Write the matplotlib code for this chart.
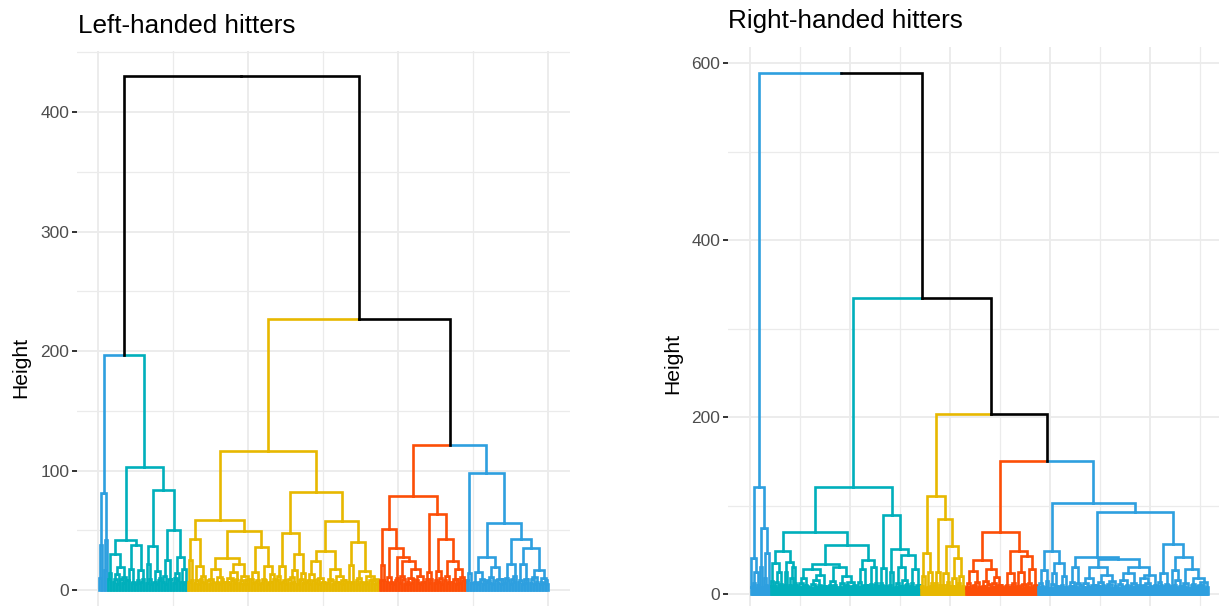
import matplotlib
matplotlib.use("Agg")
import matplotlib.pyplot as plt
from matplotlib.collections import LineCollection
from matplotlib.ticker import MultipleLocator, NullFormatter

plt.rcParams['font.family'] = ['Liberation Sans', 'DejaVu Sans']

# ---------------- data ----------------
cluster_colors = ["#2E9FDF", "#00AFBB", "#E7B800", "#FC4E07", "#2E9FDF"]
branch_color = "#000000"

left_title = "Left-handed hitters"
right_title = "Right-handed hitters"
y_label = "Height"

# Merge heights between neighbouring leaves (left to right), per cluster.
left_blue1 = [10, 38, 81, 17, 42]
left_cyan = [9, 14, 30,
             7, 9, 5, 13, 19, 9, 6, 11, 8, 42,
             8, 18, 6, 7, 5, 38,
             8, 6, 17, 7, 9, 103,
             6, 22, 9, 5, 37,
             7, 5, 16, 8, 10, 84,
             7, 12, 5, 25, 9, 9, 50,
             6, 10, 8, 14, 28, 7, 5, 18, 7]
left_yellow = [7, 25, 8, 43,
               6, 8, 5, 20, 9, 7, 12, 6, 59,
               8, 5, 9, 7, 18, 6, 7, 5, 11, 9, 7, 27,
               7, 7, 5, 10, 8, 6, 15, 9, 22, 6, 8, 5, 12, 8, 5, 9, 49,
               9, 6, 15, 7, 8, 5, 36,
               6, 9, 8, 20, 5, 7, 7, 13, 9, 116,
               8, 12, 6, 20, 7, 8, 5, 48,
               9, 6, 11, 7, 17, 5, 30, 8, 9, 6, 14, 82,
               7, 8, 5, 13, 8, 6, 24, 9, 5, 10, 7, 7, 6, 33,
               6, 9, 8, 5, 18, 7, 7, 6, 12, 8, 5, 8, 7, 58,
               7, 21, 6, 7, 40,
               8, 5, 10, 7, 16, 6, 7, 5, 12, 8, 6, 8, 5, 9, 7]
left_orange = [8, 21, 8, 51,
               7, 11, 6, 7, 5, 35,
               8, 10, 28,
               6, 12, 9, 5, 24,
               7, 5, 10, 6, 9, 18,
               8, 6, 12, 5, 7, 7, 79,
               9, 15, 6, 9, 64,
               6, 8, 16, 7, 10, 5, 43,
               8, 12, 6, 7, 24,
               7, 9, 5, 9, 18, 6, 11, 8, 7]
left_blue2 = [8, 14, 6, 98,
              6, 7, 5, 15, 7, 9, 5, 8, 28,
              7, 8, 6, 11, 5, 19, 8, 6, 9, 5, 9, 56,
              6, 10, 8, 22, 5, 9, 7, 12, 43,
              7, 8, 5, 22, 9, 6, 9, 35,
              6, 9, 5, 11, 7, 17, 5, 7, 6, 10, 8, 5]
left_joins = [197, 430, 227, 121]

right_blue1 = [8, 41,
               9, 12, 7, 25, 10, 10, 121,
               7, 30, 8, 75,
               8, 18, 10, 46, 7, 9]
right_cyan = [9, 15, 35,
              8, 9, 7, 14, 25, 10, 6, 11, 9, 49,
              10, 7, 25, 8, 36,
              7, 10, 9, 18, 30, 8, 12, 10, 70,
              8, 8, 6, 12, 9, 7, 18, 10, 6, 9, 8, 28, 7, 7, 6, 11, 9, 7, 16, 8,
              8, 6, 10, 22, 7, 9, 9, 6, 7, 34,
              9, 7, 10, 8, 6, 15, 10, 7, 8, 6, 30, 8, 7, 7, 12, 9, 6, 20, 10, 7,
              9, 8, 6, 14, 9, 8, 7, 10, 55,
              7, 8, 8, 14, 6, 28, 9, 10, 7, 10, 6, 9, 38,
              8, 11, 7, 30, 10, 6, 13, 9, 121,
              9, 7, 12, 10, 29, 8, 9, 6, 7, 89,
              8, 10, 25, 7, 7, 51,
              7, 8, 6, 13, 9, 30, 8, 9, 7, 16, 10, 6, 11, 8, 44,
              9, 6, 12, 8, 28, 7, 8, 10, 6, 10]
right_yellow = [8, 9, 20, 7, 7, 46,
                7, 8, 25, 9, 6, 12, 8, 111,
                9, 12, 7, 25, 10, 9, 85,
                8, 10, 6, 24, 10, 7, 14, 9, 54,
                7, 9, 9, 18, 8, 6, 41, 10, 12, 7, 20, 9, 6, 8]
right_orange = [7, 8, 8, 12, 6, 26, 9, 9, 7, 10, 6, 14, 8, 7, 38,
                8, 6, 9, 9, 15, 7, 7, 6, 11, 28, 8, 8, 7, 13, 9, 6, 19, 10, 7, 10,
                8, 6, 7, 70,
                9, 7, 10, 8, 24, 6, 8, 10, 7, 12, 8, 49,
                7, 9, 8, 25, 6, 10, 11, 7, 7, 8, 43,
                8, 12, 7, 7, 28, 9, 6, 9, 10]
right_blue2 = [8, 8, 7, 12, 9, 27, 6, 7, 8, 15, 7, 49,
               7, 7, 6, 11, 24, 9, 7, 9, 8, 35,
               9, 6, 10, 8, 20, 7, 8, 6, 103,
               7, 9, 9, 6, 14, 31, 8, 7, 7, 12, 6, 10, 42,
               8, 6, 8, 7, 12, 9, 6, 18, 8, 7, 7, 10, 6, 10, 30, 9, 7, 9, 6, 14,
               8, 10, 7, 22, 9, 6, 8, 8, 11, 7, 7, 6, 15, 9, 40,
               7, 7, 6, 11, 9, 7, 16, 8, 6, 9, 10, 7, 24, 9, 6, 8, 8, 13, 7, 10,
               30, 8, 6, 10, 9, 7, 18, 10, 6, 8, 8, 12, 7, 9, 21, 8, 6, 9, 10, 93,
               8, 9, 7, 14, 10, 24, 6, 8, 9, 11, 7, 10, 56,
               7, 8, 9, 27, 6, 10, 8, 16, 7, 7, 9, 42,
               9, 6, 9, 8, 13, 7, 7, 6, 28, 10, 7, 11, 8, 6, 18, 9, 8, 7, 6, 10,
               8, 10, 14, 7, 7, 8]
right_joins = [589, 335, 203, 150]


# ---------------- helpers ----------------
def assemble(clusters, joins):
    gaps, member = [], []
    for ci, g in enumerate(clusters):
        if ci > 0:
            gaps.append(joins[ci - 1])
        gaps.extend(g)
        member.extend([ci] * (len(g) + 1))
    return gaps, member


def dendro_segments(gaps, member):
    segs, cols = [], []

    def build(lo, hi):
        if lo == hi:
            return (lo + 1.0, 0.0, lo, hi)
        sub = gaps[lo:hi]
        k = lo + sub.index(max(sub))
        left = build(lo, k)
        right = build(k + 1, hi)
        x = (left[0] + right[0]) / 2.0
        h = gaps[k]
        for ch in (left, right):
            cx, chh, clo, chi = ch
            segs.append([(x, h), (cx, h), (cx, chh)])
            if member[clo] == member[chi]:
                cols.append(cluster_colors[member[clo]])
            else:
                cols.append(branch_color)
        return (x, h, lo, hi)

    build(0, len(gaps))
    return segs, cols


W, H = 1219, 606
fig = plt.figure(figsize=(W / 100, H / 100), dpi=100)
fig.patch.set_facecolor("white")


def panel(rect, gaps, member, xlim, ylim, xmaj, ymaj):
    ax = fig.add_axes(rect)
    ax.set_facecolor("white")
    segs, cols = dendro_segments(gaps, member)
    lc = LineCollection(segs, colors=cols, linewidths=1.9,
                        capstyle="projecting", joinstyle="miter", zorder=3)
    ax.add_collection(lc)
    ax.set_xlim(*xlim)
    ax.set_ylim(*ylim)
    ax.xaxis.set_major_locator(MultipleLocator(xmaj))
    ax.xaxis.set_minor_locator(MultipleLocator(xmaj / 2))
    ax.yaxis.set_major_locator(MultipleLocator(ymaj))
    ax.yaxis.set_minor_locator(MultipleLocator(ymaj / 2))
    ax.xaxis.set_major_formatter(NullFormatter())
    ax.grid(which="major", color="#EBEBEB", linewidth=1.3, zorder=0)
    ax.grid(which="minor", color="#EBEBEB", linewidth=0.9, zorder=0)
    ax.set_axisbelow(True)
    for s in ax.spines.values():
        s.set_visible(False)
    ax.tick_params(axis="y", which="major", length=3.5, width=1.3,
                   color="#222222", labelcolor="#4D4D4D", labelsize=12.5, pad=2)
    ax.tick_params(axis="y", which="minor", length=0)
    ax.tick_params(axis="x", which="both", length=0)
    return ax


lg, lm = assemble([left_blue1, left_cyan, left_yellow, left_orange, left_blue2], left_joins)
rg, rm = assemble([right_blue1, right_cyan, right_yellow, right_orange, right_blue2], right_joins)

nl = len(lm)
nr = len(rm)
lxl = (1 - 0.05 * (nl - 1), nl + 0.05 * (nl - 1))
rxl = (1 - 0.05 * (nr - 1), nr + 0.05 * (nr - 1))
ltop = max(left_joins)
rtop = max(right_joins)

panel([77 / W, (H - 615.7) / H, 493.35 / W, (615.7 - 50.5) / H],
      lg, lm, lxl, (-0.05 * ltop, 1.05 * ltop), 100, 100)
panel([728 / W, (H - 620.1) / H, 502.7 / W, (620.1 - 46.7) / H],
      rg, rm, rxl, (-0.05 * rtop, 1.05 * rtop), 100, 200)

fig.text(78 / W, 1 - 33 / H, left_title, fontsize=18.8, va="baseline", ha="left", color="black")
fig.text(728 / W, 1 - 28 / H, right_title, fontsize=18.8, va="baseline", ha="left", color="black")
fig.text(21 / W, 1 - 367 / H, y_label, fontsize=15.2, rotation=90, va="center", ha="center")
fig.text(673 / W, 1 - 363 / H, y_label, fontsize=15.2, rotation=90, va="center", ha="center")

fig.savefig("out.png", dpi=100, facecolor="white")
